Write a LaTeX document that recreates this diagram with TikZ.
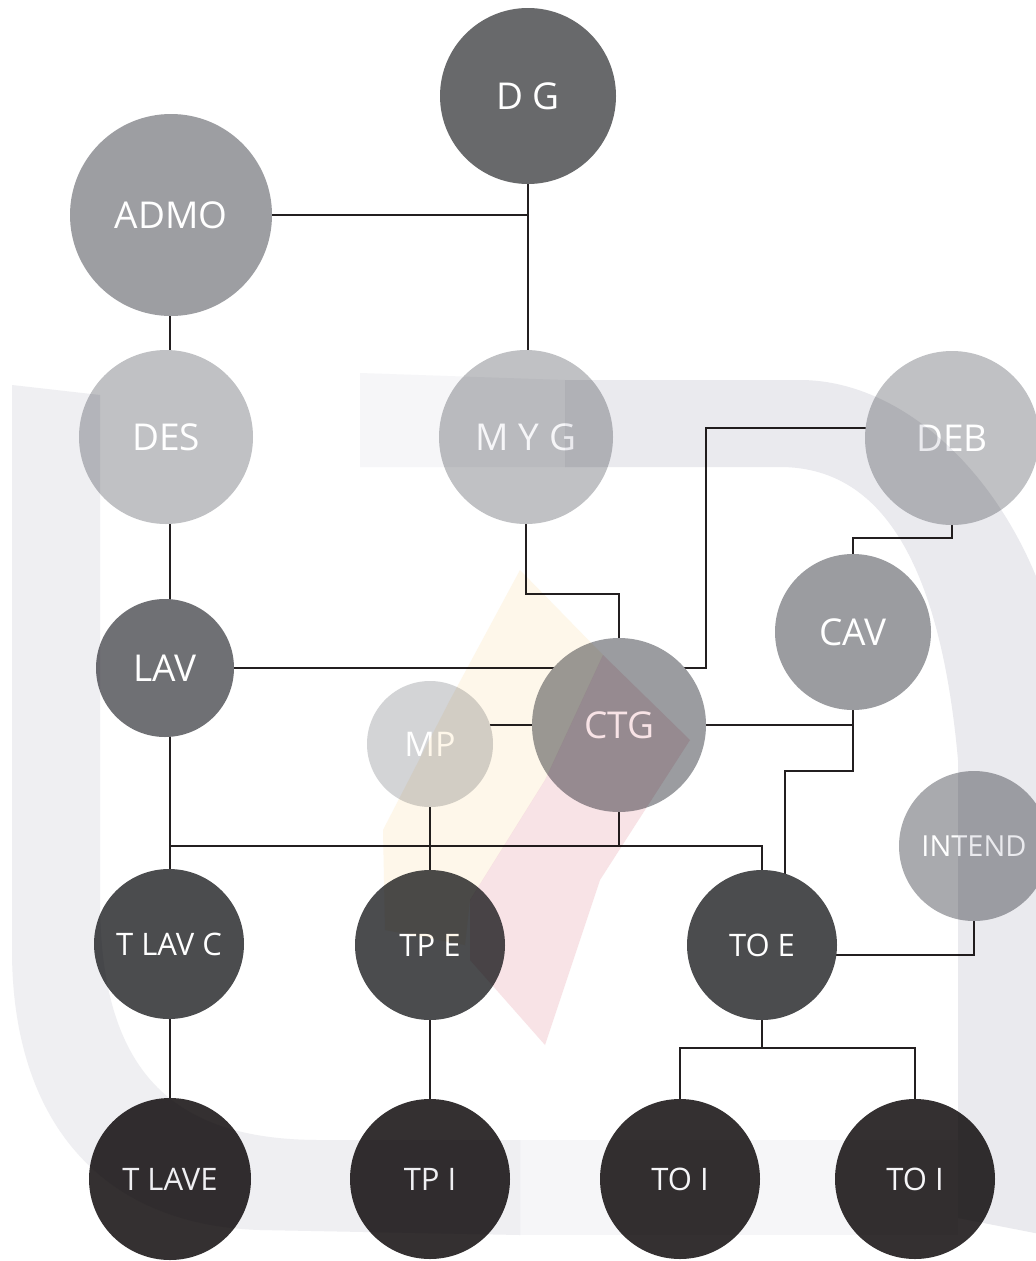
\documentclass[tikz,border=0pt]{standalone}
\usepackage{fontspec}
\setmainfont{Open Sans}
\pgfdeclarelayer{bg}
\pgfdeclarelayer{fg}
\pgfsetlayers{bg,main,fg}
\definecolor{ln}{HTML}{231F20}
\definecolor{cDG}{HTML}{68696B}
\definecolor{cADMO}{HTML}{9D9EA2}
\definecolor{cLight}{HTML}{C0C1C4}
\definecolor{cLAV}{HTML}{6F7074}
\definecolor{cMid}{HTML}{9B9CA0}
\definecolor{cMP}{HTML}{D3D4D6}
\definecolor{cINT}{HTML}{A9AAAE}
\definecolor{cDark}{HTML}{4B4C4E}
\definecolor{cBlack}{HTML}{343031}
\definecolor{wmgray}{HTML}{EFEFF2}
\definecolor{wmgrayb}{HTML}{EAEAEE}
\definecolor{wmlight}{HTML}{F6F6F8}
\definecolor{wmyel}{HTML}{FEF7EA}
\definecolor{wmpink}{HTML}{F8E3E6}
\tikzset{
  orgc/.style={circle, inner sep=0pt, text=white, draw=none},
  lblbig/.style={font=\fontsize{37}{37}\selectfont},
  lblmid/.style={font=\fontsize{31}{31}\selectfont},
  lblsmall/.style={font=\fontsize{29}{29}\selectfont},
  link/.style={draw=ln, line width=1.8pt},
}
\begin{document}
\begin{tikzpicture}[x=1pt,y=-1pt]
\useasboundingbox (0,0) rectangle (1036,1261);
\clip (0,0) rectangle (1036,1261);
% nodes
\node[orgc, lblbig, fill=cDG, minimum size=176pt] (DG) at (528,96) {D G};
\node[orgc, lblbig, fill=cADMO, minimum size=202pt] (ADMO) at (171,215) {ADMO};
\node[orgc, lblbig, fill=cLight, minimum size=174pt] (DES) at (166,437) {DES};
\node[orgc, lblbig, fill=cLight, minimum size=174pt] (MYG) at (526,437) {M Y G};
\node[orgc, lblbig, fill=cLight, minimum size=174pt] (DEB) at (952,438) {DEB};
\node[orgc, lblbig, fill=cLAV, minimum size=138pt] (LAV) at (165,668) {LAV};
\node[orgc, lblbig, fill=cMid, minimum size=156pt] (CAV) at (853,632) {CAV};
\node[orgc, lblbig, fill=cMid, minimum size=174pt] (CTG) at (619,725) {CTG};
\node[orgc, fill=cMP, minimum size=126pt, font=\fontsize{34}{34}\selectfont] (MP) at (430,744) {MP};
\node[orgc, lblsmall, fill=cINT, minimum size=150pt] (INTEND) at (974,846) {INTEND};
\node[orgc, lblmid, fill=cDark, minimum size=150pt] (TLAVC) at (169,944) {T LAV C};
\node[orgc, lblmid, fill=cDark, minimum size=150pt] (TPE) at (430,945) {TP E};
\node[orgc, lblmid, fill=cDark, minimum size=150pt] (TOE) at (762,945) {TO E};
\node[orgc, lblmid, fill=cBlack, minimum size=162pt] (TLAVE) at (170,1179) {T LAVE};
\node[orgc, lblmid, fill=cBlack, minimum size=160pt] (TPI) at (430,1179) {TP I};
\node[orgc, lblmid, fill=cBlack, minimum size=160pt] (TOIa) at (680,1179) {TO I};
\node[orgc, lblmid, fill=cBlack, minimum size=160pt] (TOIb) at (915,1179) {TO I};
\coordinate (colL) at (170,0);
\coordinate (bus) at (0,846);
% connectors
\begin{pgfonlayer}{bg}
\fill[white] (0,0) rectangle (1036,1261);
\draw[link] (DG.center) -- (DG.center |- MYG.center);
\draw[link] (ADMO.center) -- (DG.center |- ADMO.center);
\draw[link] (ADMO.center -| colL) -- (DES.center -| colL);
\draw[link] (DES.center -| colL) -- (LAV.center -| colL);
\draw[link] (LAV.center -| colL) -- (colL |- bus);
\draw[link] (colL |- bus) -- (TLAVC.center -| colL);
\draw[link] (TLAVC.center -| colL) -- (TLAVE.center -| colL);
\draw[link] (LAV.center) -- (CTG.center |- LAV.center);
\draw[link] (MYG.center) -- ++(0,157) -| (CTG.center);
\draw[link] ([yshift=10pt]DEB.center) -- ++(-246,0) -- ++(0,240) -- ([yshift=57pt]CTG.center);
\draw[link] (DEB.center) -- ++(0,100) -| (CAV.center);
\draw[link] (CTG.center) -- (CAV.center |- CTG.center);
\draw[link] (CAV.center) -- ++(0,139) -| ([xshift=23pt]TOE.center);
\draw[link] (MP.center |- CTG.center) -- (CTG.center);
\draw[link] (CTG.center) -- (CTG.center |- bus);
\draw[link] (colL |- bus) -- (TOE.center |- bus) -- (TOE.center);
\draw[link] (MP.center) -- (TPE.center);
\draw[link] (TPE.center) -- (TPI.center);
\draw[link] (INTEND.center) |- ([yshift=-10pt]TOE.center);
\draw[link] (TOE.center) -- ++(0,103) -| (TOIa.center);
\draw[link] (TOE.center) -- ++(0,103) -| (TOIb.center);
\end{pgfonlayer}
% faint background watermark
\begin{pgfonlayer}{fg}
\begin{scope}[blend mode=multiply]
\fill[wmgray] (12,385) -- (100,395) -- (100,900) .. controls (100,1080) and (180,1140) .. (320,1140) -- (520,1140) -- (520,1235) -- (260,1230) .. controls (100,1225) and (12,1120) .. (12,950) -- cycle;
\fill[wmlight] (520,1140) -- (958,1140) -- (958,1235) -- (520,1235) -- cycle;
\fill[wmgrayb] (565,380) -- (800,380) .. controls (900,380) and (1000,470) .. (1045,600) -- (1045,1235) -- (958,1218) -- (958,760) .. controls (940,560) and (880,467) .. (780,467) -- (565,467) -- cycle;
\fill[wmlight] (360,373) -- (565,380) -- (565,467) -- (360,467) -- cycle;
\fill[wmyel] (520,570) -- (603,655) -- (545,780) -- (470,900) -- (465,945) -- (385,930) -- (383,830) -- (450,700) -- cycle;
\fill[wmpink] (603,655) -- (690,740) -- (600,880) -- (545,1045) -- (470,960) -- (470,900) -- (545,780) -- cycle;
\end{scope}
\end{pgfonlayer}
\end{tikzpicture}
\end{document}
